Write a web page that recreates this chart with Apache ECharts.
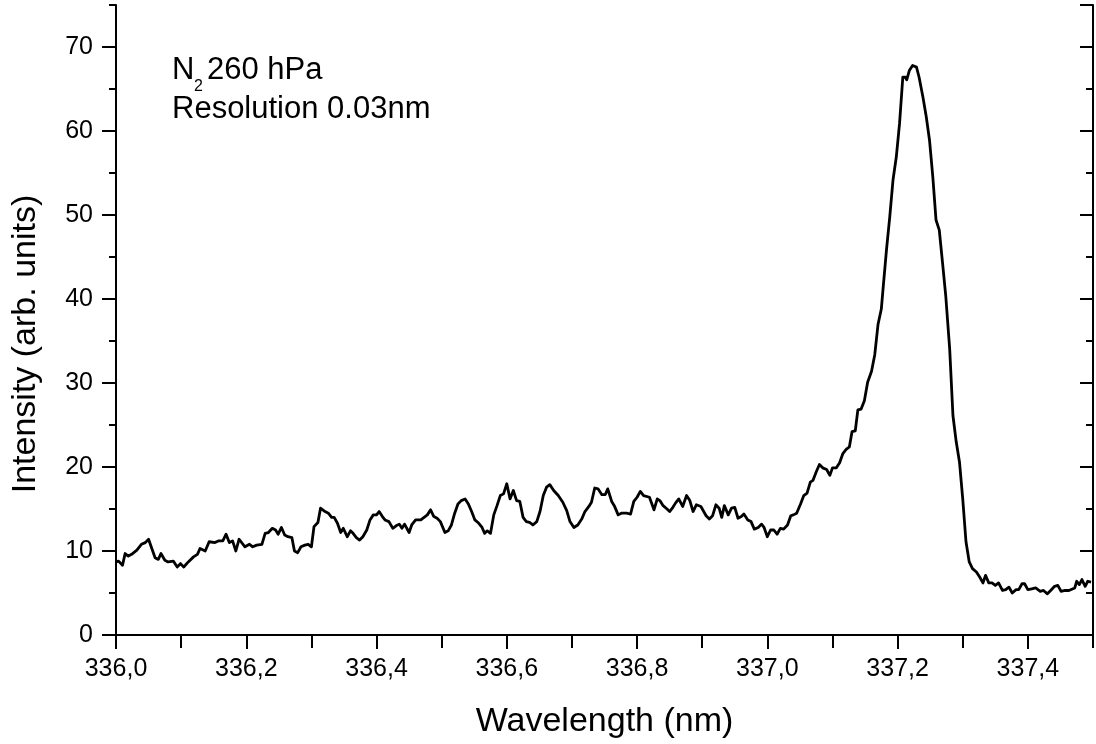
<!DOCTYPE html>
<html>
<head>
<meta charset="utf-8">
<script src="https://cdn.jsdelivr.net/npm/echarts@6/dist/echarts.min.js"></script>
<style>
  html, body { margin: 0; padding: 0; background: #fff; }
  #chart { width: 1096px; height: 744px; }
</style>
</head>
<body>
<div id="chart"></div>
<script>
// N2 emission band near 337 nm: wavelength (nm) and intensity (arb. units)
const wavelength = [
  336.000, 336.004, 336.010, 336.014, 336.019, 336.024, 336.032, 336.039, 336.045, 336.050,
  336.055, 336.060, 336.065, 336.069, 336.075, 336.080, 336.088, 336.094, 336.099, 336.104,
  336.111, 336.119, 336.125, 336.129, 336.137, 336.143, 336.152, 336.157, 336.164, 336.169,
  336.174, 336.179, 336.184, 336.189, 336.198, 336.205, 336.210, 336.216, 336.224, 336.229,
  336.234, 336.240, 336.245, 336.249, 336.254, 336.259, 336.264, 336.270, 336.274, 336.279,
  336.284, 336.290, 336.295, 336.300, 336.304, 336.310, 336.314, 336.321, 336.326, 336.331,
  336.335, 336.340, 336.345, 336.349, 336.355, 336.360, 336.364, 336.369, 336.374, 336.379,
  336.385, 336.390, 336.395, 336.400, 336.404, 336.409, 336.413, 336.419, 336.425, 336.430,
  336.435, 336.439, 336.443, 336.450, 336.454, 336.460, 336.468, 336.473, 336.478, 336.483,
  336.488, 336.493, 336.498, 336.505, 336.510, 336.515, 336.520, 336.525, 336.530, 336.536,
  336.541, 336.546, 336.551, 336.557, 336.562, 336.566, 336.570, 336.575, 336.580, 336.585,
  336.590, 336.595, 336.600, 336.605, 336.610, 336.615, 336.620, 336.625, 336.630, 336.635,
  336.640, 336.646, 336.651, 336.656, 336.661, 336.666, 336.672, 336.679, 336.686, 336.692,
  336.697, 336.703, 336.709, 336.715, 336.720, 336.726, 336.730, 336.735, 336.740, 336.746,
  336.751, 336.755, 336.761, 336.765, 336.771, 336.776, 336.784, 336.790, 336.795, 336.800,
  336.805, 336.810, 336.819, 336.826, 336.831, 336.835, 336.840, 336.846, 336.850, 336.855,
  336.859, 336.864, 336.870, 336.876, 336.881, 336.886, 336.891, 336.898, 336.901, 336.906,
  336.911, 336.916, 336.921, 336.926, 336.930, 336.934, 336.940, 336.945, 336.950, 336.955,
  336.960, 336.964, 336.970, 336.975, 336.980, 336.986, 336.991, 336.995, 337.000, 337.005,
  337.010, 337.015, 337.020, 337.025, 337.031, 337.036, 337.040, 337.045, 337.051, 337.056,
  337.061, 337.066, 337.070, 337.075, 337.080, 337.085, 337.091, 337.096, 337.100, 337.106,
  337.111, 337.116, 337.121, 337.126, 337.130, 337.135, 337.139, 337.144, 337.149, 337.154,
  337.160, 337.165, 337.170, 337.175, 337.178, 337.183, 337.188, 337.193, 337.198, 337.203,
  337.208, 337.212, 337.214, 337.218, 337.223, 337.229, 337.233, 337.239, 337.244, 337.249,
  337.254, 337.259, 337.264, 337.269, 337.274, 337.280, 337.285, 337.290, 337.295, 337.300,
  337.305, 337.310, 337.315, 337.321, 337.326, 337.331, 337.335, 337.340, 337.345, 337.350,
  337.355, 337.361, 337.366, 337.371, 337.376, 337.382, 337.386, 337.391, 337.395, 337.400,
  337.406, 337.412, 337.415, 337.419, 337.424, 337.430, 337.435, 337.441, 337.446, 337.451,
  337.457, 337.463, 337.466, 337.472, 337.475, 337.479, 337.483, 337.488, 337.492, 337.497
];
const intensity = [
  8.7, 8.8, 8.3, 9.7, 9.4, 9.6, 10.1, 10.8, 11.0, 11.4,
  10.3, 9.2, 9.0, 9.7, 8.9, 8.7, 8.8, 8.1, 8.5, 8.1,
  8.7, 9.3, 9.6, 10.3, 10.0, 11.1, 11.0, 11.2, 11.2, 12.0,
  11.0, 11.2, 10.0, 11.4, 10.5, 10.8, 10.5, 10.7, 10.8, 12.1,
  12.2, 12.7, 12.5, 12.0, 12.8, 11.9, 11.7, 11.6, 10.0, 9.8,
  10.5, 10.7, 10.8, 10.5, 12.9, 13.4, 15.1, 14.7, 14.5, 14.0,
  14.0, 13.3, 12.2, 12.7, 11.7, 12.4, 12.1, 11.6, 11.3, 11.7,
  12.5, 13.7, 14.3, 14.3, 14.7, 14.1, 13.7, 13.5, 12.7, 13.0,
  13.2, 12.7, 13.2, 12.2, 13.1, 13.7, 13.7, 14.0, 14.3, 14.9,
  14.1, 13.9, 13.5, 12.2, 12.4, 13.1, 14.5, 15.6, 16.0, 16.2,
  15.6, 14.7, 13.7, 13.3, 12.8, 12.1, 12.4, 12.1, 14.3, 15.4,
  16.6, 16.8, 18.0, 16.2, 17.2, 16.0, 15.9, 14.0, 13.5, 13.4,
  13.1, 13.5, 14.7, 16.6, 17.6, 17.9, 17.2, 16.6, 15.8, 14.8,
  13.5, 12.8, 13.1, 13.8, 14.7, 15.3, 15.8, 17.5, 17.4, 16.7,
  16.7, 17.4, 15.9, 15.4, 14.3, 14.5, 14.5, 14.4, 15.9, 16.4,
  17.1, 16.6, 16.4, 14.9, 16.2, 16.0, 15.4, 15.0, 14.7, 15.2,
  15.7, 16.2, 15.3, 16.6, 16.0, 14.7, 15.5, 15.3, 15.1, 14.2,
  13.8, 14.2, 15.5, 15.1, 14.0, 15.4, 14.3, 15.1, 15.2, 13.9,
  14.1, 14.4, 13.7, 13.5, 12.6, 12.8, 13.2, 12.8, 11.7, 12.5,
  12.5, 12.0, 12.7, 12.6, 13.1, 14.2, 14.3, 14.5, 15.6, 16.6,
  16.9, 18.2, 18.4, 19.4, 20.3, 19.9, 19.7, 19.0, 19.9, 19.9,
  20.5, 21.6, 22.1, 22.4, 24.2, 24.3, 26.8, 26.9, 27.9, 30.1,
  31.4, 33.4, 37.0, 38.8, 41.5, 45.9, 49.8, 54.2, 56.9, 60.9,
  66.4, 66.4, 66.1, 67.2, 67.8, 67.6, 66.4, 64.0, 61.7, 58.9,
  54.6, 49.4, 48.2, 44.3, 40.3, 34.0, 26.1, 23.0, 20.6, 16.2,
  11.1, 8.7, 7.9, 7.5, 6.9, 6.2, 7.1, 6.2, 6.2, 5.9,
  6.2, 5.3, 5.4, 5.7, 5.0, 5.4, 5.4, 6.1, 6.1, 5.4,
  5.5, 5.6, 5.8, 5.2, 5.3, 4.9, 5.3, 5.8, 5.9, 5.2,
  5.3, 5.3, 5.1, 5.6, 6.4, 6.0, 6.6, 5.8, 6.4, 6.3
];

const FONT = "'Liberation Sans', Arial, sans-serif";
const xRange = [336.0, 337.5];
const yRange = [0, 75];

const chart = echarts.init(document.getElementById('chart'), null, { renderer: 'canvas' });

const line = { show: true, lineStyle: { color: '#000', width: 2 } };
const noLine = { show: false };
const noLabel = { show: false };

function xAxisDef(opts) {
  return Object.assign({
    type: 'value', min: xRange[0], max: xRange[1],
    splitLine: { show: false }, axisLabel: noLabel, axisLine: noLine
  }, opts);
}
function yAxisDef(opts) {
  return Object.assign({
    type: 'value', min: yRange[0], max: yRange[1],
    splitLine: { show: false }, axisLabel: noLabel, axisLine: noLine
  }, opts);
}

const option = {
  backgroundColor: '#fff',
  animation: false,
  grid: { left: 116, right: 3, top: 5, bottom: 107, containLabel: false },
  xAxis: [
    xAxisDef({
      position: 'bottom', interval: 0.2, axisLine: line,
      axisTick: { show: true, inside: false, length: 14, lineStyle: { color: '#000', width: 2 } },
      axisLabel: {
        show: true, showMaxLabel: false, margin: 22, color: '#000', fontSize: 25, fontFamily: FONT,
        formatter: v => v.toFixed(1).replace('.', ',')
      },
      name: 'Wavelength (nm)', nameLocation: 'middle', nameGap: 70,
      nameTextStyle: { color: '#000', fontSize: 34, fontFamily: FONT }
    }),
    xAxisDef({
      position: 'bottom', interval: 0.1,
      axisTick: { show: true, inside: false, length: 7, lineStyle: { color: '#000', width: 2 } }
    }),
    xAxisDef({
      position: 'top', interval: 0.1, axisLine: line,
      axisTick: { show: true, inside: true, length: 13, lineStyle: { color: '#000', width: 2 } }
    })
  ],
  yAxis: [
    yAxisDef({
      position: 'left', interval: 10, axisLine: line,
      axisTick: { show: true, inside: false, length: 14, lineStyle: { color: '#000', width: 2 } },
      axisLabel: {
        show: true, showMaxLabel: false, margin: 23, color: '#000', fontSize: 25, fontFamily: FONT
      }
    }),
    yAxisDef({
      position: 'left', interval: 5,
      axisTick: { show: true, inside: false, length: 7, lineStyle: { color: '#000', width: 2 } }
    }),
    yAxisDef({
      position: 'right', interval: 10, axisLine: line,
      axisTick: { show: true, inside: true, length: 13, lineStyle: { color: '#000', width: 2 } }
    }),
    yAxisDef({
      position: 'right', interval: 5,
      axisTick: { show: true, inside: true, length: 7, lineStyle: { color: '#000', width: 2 } }
    })
  ],
  series: [{
    type: 'line',
    xAxisIndex: 0, yAxisIndex: 0,
    data: wavelength.map((w, i) => [w, intensity[i]]),
    showSymbol: false, symbol: 'none',
    lineStyle: { color: '#000', width: 2.8, join: 'round' },
    z: 5
  }],
  graphic: [
    { type: 'text', x: 26, y: 344, rotation: Math.PI / 2,
      style: { text: 'Intensity (arb. units)', fill: '#000', font: '34px ' + FONT, align: 'center', verticalAlign: 'middle' } },
    { type: 'text', x: 172, y: 70,
      style: { text: 'N', fill: '#000', font: '31px ' + FONT, align: 'left', verticalAlign: 'middle' } },
    { type: 'text', x: 194, y: 87,
      style: { text: '2', fill: '#000', font: '16px ' + FONT, align: 'left', verticalAlign: 'middle' } },
    { type: 'text', x: 207, y: 70,
      style: { text: '260 hPa', fill: '#000', font: '31px ' + FONT, align: 'left', verticalAlign: 'middle' } },
    { type: 'text', x: 172, y: 109,
      style: { text: 'Resolution 0.03nm', fill: '#000', font: '31px ' + FONT, align: 'left', verticalAlign: 'middle' } }
  ]
};

chart.setOption(option);
</script>
</body>
</html>
